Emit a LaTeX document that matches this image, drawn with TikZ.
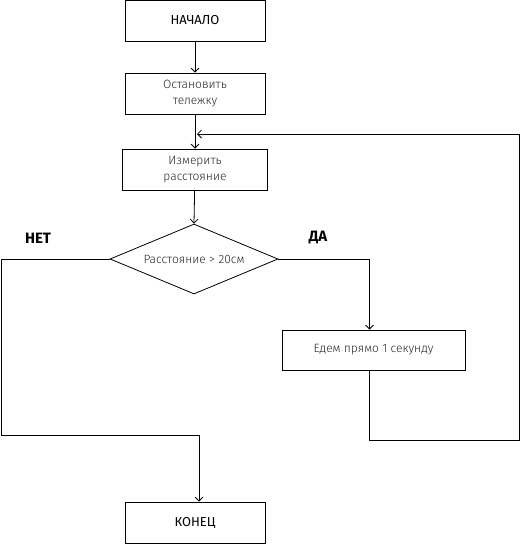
\documentclass[tikz,border=0pt]{standalone}
\usepackage{fontspec}
\setmainfont{Fira Sans}
\newfontfamily\thinfont{Fira Sans Light}
\usetikzlibrary{shapes.geometric, arrows.meta}

\begin{document}
\begin{tikzpicture}[
        x=1pt, y=-1pt,
        line width=0.8pt,
        every node/.style={align=center, inner sep=0pt},
        block/.style={draw, minimum width=140pt, minimum height=41pt, text=black!85, font=\thinfont\fontsize{12}{16}\selectfont},
        endblock/.style={block, text=black, font=\fontsize{13}{15}\selectfont},
        decision/.style={draw, diamond, aspect=2.4, minimum width=168pt, minimum height=70pt, text=black!85, font=\thinfont\fontsize{12}{14}\selectfont},
        answer/.style={font=\bfseries\fontsize{15}{18}\selectfont},
        flow/.style={draw, -{Straight Barb[length=4pt, width=8pt]}}
    ]
        \useasboundingbox (0,0) rectangle (520,544);
        \node[endblock] (start) at (195,20.5) {НАЧАЛО};
        \node[block] (stop) at (195,93.5) {Остановить\\тележку};
        \node[block, minimum width=145pt] (measure) at (195,169.5) {Измерить\\расстояние};
        \node[decision] (check) at (194,259) {Расстояние > 20см};
        \node[block, minimum width=183pt, minimum height=40pt] (drive) at (373.5,350) {Едем прямо 1 секунду};
        \node[endblock] (finish) at (195,522.5) {КОНЕЦ};
        \node[answer] (no) at (38,238) {НЕТ};
        \node[answer] (yes) at (318,238) {ДА};

        \coordinate (leftturn) at (1,435);
        \coordinate (loopturn) at (519,440);
        \coordinate (join) at (197,134);

        \draw[flow] (start) -- (stop);
        \draw[flow] (stop) -- (measure);
        \draw[flow] (measure) -- (check.north);
        \draw[flow] (check.east) -| ([xshift=-4pt]drive.north);
        \draw[flow] (check.west) -| (leftturn) -| ([xshift=4pt]finish.north);
        \draw[flow] ([xshift=-4pt]drive.south) |- (loopturn) |- (join);
    \end{tikzpicture}
\end{document}
